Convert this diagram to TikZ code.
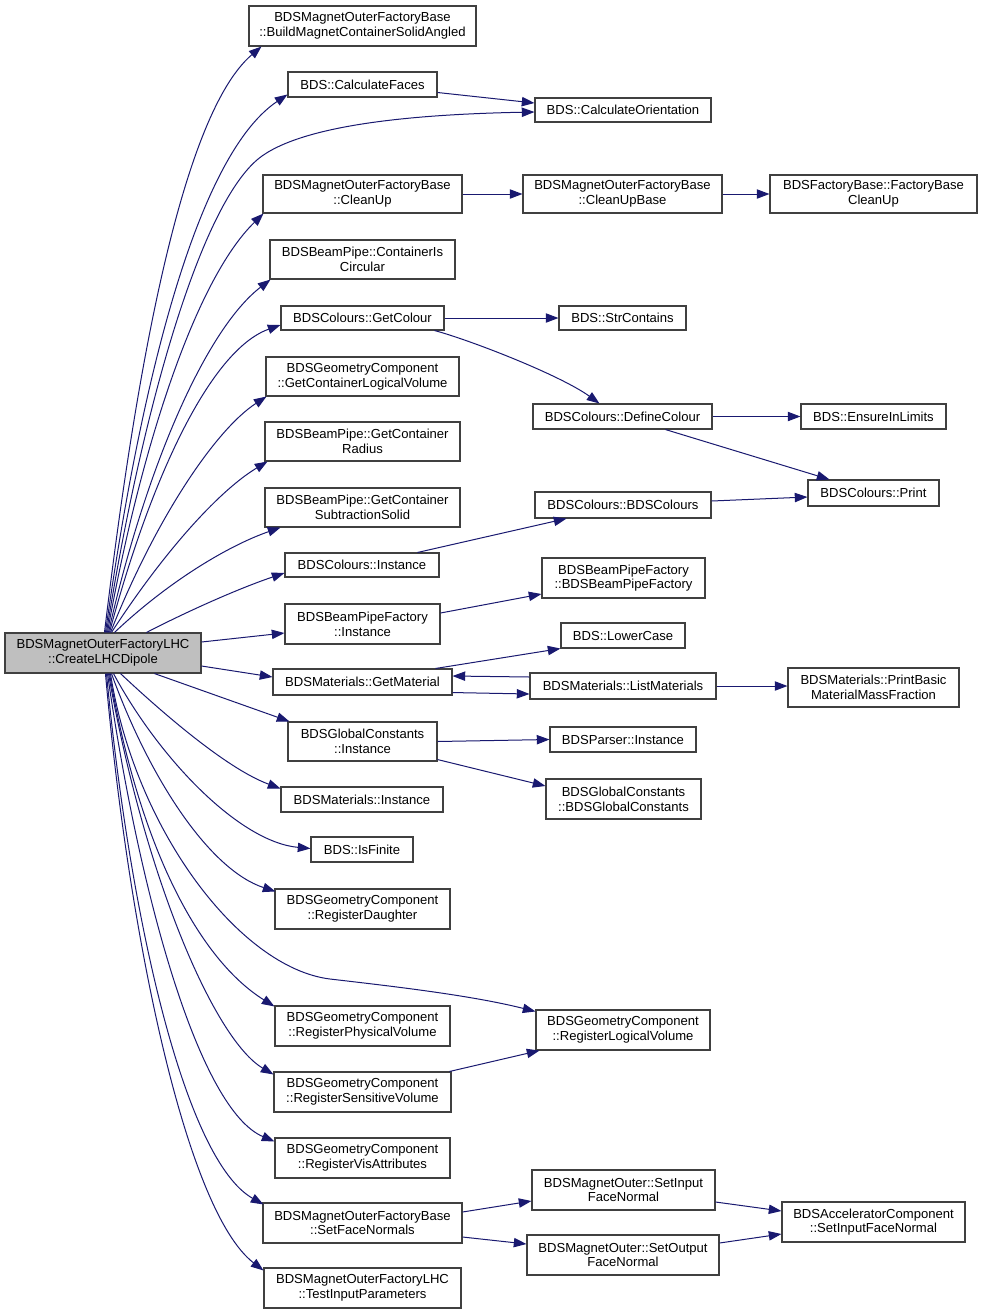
\documentclass[tikz,border=0pt]{standalone}
\usepackage{fontspec}
\setmainfont{Liberation Sans}
\usetikzlibrary{arrows.meta,calc}
\definecolor{edgec}{HTML}{191970}
\definecolor{boxc}{HTML}{404040}
\definecolor{rootfill}{HTML}{BFBFBF}
\tikzset{
  box/.style={draw=boxc, line width=0.8pt, fill=white, inner sep=0pt, align=center,
    font=\fontsize{9.8}{11}\selectfont},
  rootbox/.style={box, fill=rootfill},
  call/.style={draw=edgec, line width=0.75pt, -{Triangle[length=9.5pt,width=7pt]}},
}
\newcommand\bnode[7][box]{\node[#1, minimum width={(#5-#3)*0.75pt}, minimum height={(#6-#4)*0.75pt}] (#2) at ({(#3+#5)/2},{(#4+#6)/2}) {#7};}
\begin{document}
\begin{tikzpicture}[x=0.75pt, y=-0.75pt]
\useasboundingbox (0,0) rectangle (983,1315);
\fill[white] (0,0) rectangle (983,1315);

\bnode[rootbox]{root}{5}{633}{201}{673}{BDSMagnetOuterFactoryLHC\\::CreateLHCDipole}
\bnode{bmc}{249}{6}{476}{46}{BDSMagnetOuterFactoryBase\\::BuildMagnetContainerSolidAngled}
\bnode{cf}{288}{72}{437}{97}{BDS::CalculateFaces}
\bnode{co}{535}{98}{711}{122}{BDS::CalculateOrientation}
\bnode{cu}{263}{175}{462}{213}{BDSMagnetOuterFactoryBase\\::CleanUp}
\bnode{cub}{523}{175}{722}{213}{BDSMagnetOuterFactoryBase\\::CleanUpBase}
\bnode{fbc}{770}{175}{977}{213}{BDSFactoryBase::FactoryBase\\CleanUp}
\bnode{cic}{270}{240}{455}{279}{BDSBeamPipe::ContainerIs\\Circular}
\bnode{gc}{281}{306}{444}{330}{BDSColours::GetColour}
\bnode{sc}{559}{306}{686}{330}{BDS::StrContains}
\bnode{gclv}{266}{357}{459}{396}{BDSGeometryComponent\\::GetContainerLogicalVolume}
\bnode{dc}{533}{404}{712}{429}{BDSColours::DefineColour}
\bnode{eil}{801}{404}{946}{429}{BDS::EnsureInLimits}
\bnode{gcr}{265}{422}{460}{461}{BDSBeamPipe::GetContainer\\Radius}
\bnode{gcss}{265}{488}{460}{527}{BDSBeamPipe::GetContainer\\SubtractionSolid}
\bnode{pr}{808}{480}{939}{506}{BDSColours::Print}
\bnode{bc}{535}{492}{711}{518}{BDSColours::BDSColours}
\bnode{ci}{285}{553}{439}{577}{BDSColours::Instance}
\bnode{bpf}{542}{558}{705}{598}{BDSBeamPipeFactory\\::BDSBeamPipeFactory}
\bnode{bpfi}{285}{604}{440}{644}{BDSBeamPipeFactory\\::Instance}
\bnode{lc}{561}{623}{685}{648}{BDS::LowerCase}
\bnode{gm}{273}{669}{452}{695}{BDSMaterials::GetMaterial}
\bnode{lm}{530}{673}{716}{699}{BDSMaterials::ListMaterials}
\bnode{pbm}{788}{668}{959}{707}{BDSMaterials::PrintBasic\\MaterialMassFraction}
\bnode{gci}{288}{722}{437}{761}{BDSGlobalConstants\\::Instance}
\bnode{pi}{550}{727}{696}{752}{BDSParser::Instance}
\bnode{gcc}{546}{779}{701}{819}{BDSGlobalConstants\\::BDSGlobalConstants}
\bnode{mi}{281}{787}{443}{812}{BDSMaterials::Instance}
\bnode{isf}{311}{837}{413}{862}{BDS::IsFinite}
\bnode{rd}{275}{889}{450}{929}{BDSGeometryComponent\\::RegisterDaughter}
\bnode{rlv}{536}{1010}{710}{1050}{BDSGeometryComponent\\::RegisterLogicalVolume}
\bnode{rpv}{275}{1006}{450}{1046}{BDSGeometryComponent\\::RegisterPhysicalVolume}
\bnode{rsv}{274}{1072}{451}{1112}{BDSGeometryComponent\\::RegisterSensitiveVolume}
\bnode{rva}{275}{1138}{450}{1178}{BDSGeometryComponent\\::RegisterVisAttributes}
\bnode{sifn}{532}{1170}{715}{1210}{BDSMagnetOuter::SetInput\\FaceNormal}
\bnode{sfn}{263}{1203}{462}{1243}{BDSMagnetOuterFactoryBase\\::SetFaceNormals}
\bnode{sofn}{527}{1235}{719}{1275}{BDSMagnetOuter::SetOutput\\FaceNormal}
\bnode{acc}{782}{1202}{965}{1242}{BDSAcceleratorComponent\\::SetInputFaceNormal}
\bnode{tip}{264}{1268}{461}{1308}{BDSMagnetOuterFactoryLHC\\::TestInputParameters}

% upper fan from root
\draw[call] ($(root.north west)+(100,0)$) .. controls (130,420) and (175,120) .. ($(bmc.south west)+(13,0)$);
\draw[call] ($(root.north west)+(101,0)$) .. controls (135,420) and (190,160) .. ($(cf.west)+(0,10)$);
\draw[call] ($(root.north west)+(102,0)$) .. controls (140,420) and (200,200) .. (262,156) .. controls (310,122) and (430,114) .. ($(co.west)+(0,2)$);
\draw[call] ($(root.north west)+(103,0)$) .. controls (140,450) and (195,280) .. ($(cu.south west)+(1,0)$);
\draw[call] ($(root.north west)+(104,0)$) .. controls (145,470) and (205,330) .. ($(cic.south west)+(1,0)$);
\draw[call] ($(root.north west)+(105,0)$) .. controls (150,480) and (210,350) .. ($(gc.west)+(0,7)$);
\draw[call] ($(root.north west)+(106,0)$) .. controls (155,520) and (215,430) .. ($(gclv.south west)+(1,0)$);
\draw[call] ($(root.north west)+(107,0)$) .. controls (165,550) and (220,490) .. ($(gcr.south west)+(3,0)$);
\draw[call] ($(root.north west)+(110,0)$) .. controls (170,580) and (230,545) .. ($(gcss.south west)+(16,0)$);
\draw[call] ($(root.north west)+(142,0)$) .. controls (190,610) and (240,588) .. ($(ci.west)+(0,8)$);
\draw[call] ($(root.east)+(0,-11)$) -- ($(bpfi.west)+(0,9)$);
\draw[call] ($(root.east)+(0,13)$) -- ($(gm.west)+(0,-5)$);
\draw[call] ($(root.south west)+(150,0)$) -- ($(gci.north west)+(2,0)$);
% lower fan from root
\draw[call] ($(root.south west)+(116,0)$) .. controls (170,720) and (230,770) .. ($(mi.west)+(0,-11)$);
\draw[call] ($(root.south west)+(109,0)$) .. controls (160,760) and (240,842) .. ($(isf.west)+(0,-1)$);
\draw[call] ($(root.south west)+(107,0)$) .. controls (150,780) and (210,870) .. ($(rd.north west)+(1,3)$);
\draw[call] ($(root.south west)+(106,0)$) .. controls (135,830) and (240,968) .. (330,979) .. controls (390,986) and (470,995) .. ($(rlv.north west)+(0,2)$);
\draw[call] ($(root.south west)+(105,0)$) .. controls (140,850) and (200,960) .. ($(rpv.north west)+(0,1)$);
\draw[call] ($(root.south west)+(104,0)$) .. controls (145,880) and (215,1040) .. ($(rsv.north west)+(0,3)$);
\draw[call] ($(root.south west)+(103,0)$) .. controls (140,900) and (200,1110) .. ($(rva.north west)+(0,4)$);
\draw[call] ($(root.south west)+(102,0)$) .. controls (130,920) and (185,1160) .. ($(sfn.north west)+(1,2)$);
\draw[call] ($(root.south west)+(101,0)$) .. controls (128,930) and (185,1210) .. ($(tip.north west)+(0,3)$);

% other calls
\draw[call] ($(cf.east)+(0,8)$) -- ($(co.west)+(0,-7)$);
\draw[call] (cu.east) -- (cub.west);
\draw[call] (cub.east) -- (fbc.west);
\draw[call] (gc.east) -- (sc.west);
\draw[call] ($(gc.south east)+(-10,0)$) .. controls (470,340) and (560,375) .. ($(dc.north west)+(67,0)$);
\draw[call] (dc.east) -- (eil.west);
\draw[call] ($(dc.south west)+(133,0)$) -- ($(pr.north west)+(22,0)$);
\draw[call] ($(bc.east)+(0,-4)$) -- ($(pr.west)+(0,4)$);
\draw[call] ($(ci.north west)+(133,0)$) -- ($(bc.south west)+(32,0)$);
\draw[call] ($(bpfi.east)+(0,-11)$) -- ($(bpf.west)+(0,16)$);
\draw[call] ($(gm.north east)+(-17,0)$) -- (lc.south west);
\draw[call] ($(gm.south east)+(0,-3)$) -- ($(lm.west)+(0,8)$);
\draw[call] ($(lm.west)+(0,-9)$) -- ($(gm.east)+(0,-6)$);
\draw[call] (lm.east) -- (pbm.west |- lm.east);
\draw[call] (gci.east) -- (pi.west);
\draw[call] ($(gci.south east)+(0,-2)$) -- ($(gcc.west)+(0,-13)$);
\draw[call] ($(rsv.north east)+(-2,0)$) -- ($(rlv.south west)+(4,0)$);
\draw[call] ($(sfn.east)+(0,-11)$) -- ($(sifn.west)+(0,11)$);
\draw[call] ($(sfn.east)+(0,14)$) -- ($(sofn.west)+(0,-11)$);
\draw[call] ($(sifn.east)+(0,12)$) -- ($(acc.west)+(0,-11)$);
\draw[call] ($(sofn.east)+(0,-12)$) -- ($(acc.west)+(0,12)$);
\end{tikzpicture}
\end{document}
